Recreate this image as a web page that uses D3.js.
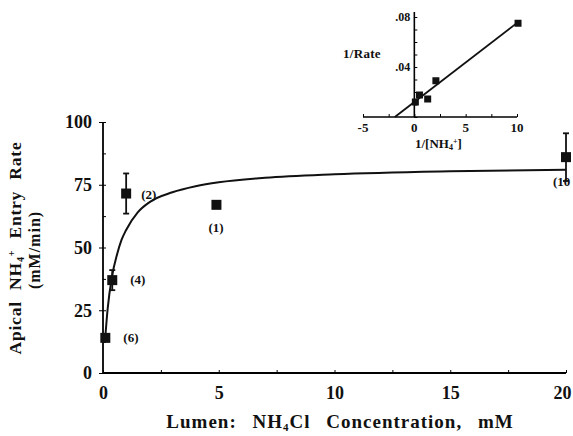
<!DOCTYPE html>
<html><head><meta charset="utf-8">
<script src="https://cdn.jsdelivr.net/npm/d3@7"></script>
<style>
body{margin:0;background:#fff;}
text{font-family:"Liberation Serif","Times New Roman",serif;font-weight:bold;fill:#111;}
</style></head>
<body><svg id="c" width="573" height="436"></svg>
<script>
// Main data
const conc = [0.1, 0.4, 1.0, 4.9, 20];
const rate = [14, 37, 71.5, 67, 86];
const sem = [0, 4, 8, 0, 9.5];
const nLabels = ["(6)", "(4)", "(2)", "(1)", "(10"];
// Fitted curve points
const curveX = [0.08, 0.2, 0.4, 0.6, 0.8, 1, 1.5, 2, 3, 4, 5, 7, 10, 15, 20];
const curveY = [12, 25.5, 39, 47, 53, 57, 64, 68, 72, 74.4, 76, 77.8, 79.2, 80.4, 81];
const xTicks = [0, 5, 10, 15, 20];
const yTicks = [0, 25, 50, 75, 100];
// Inset (double reciprocal)
const invConc = [0.1, 0.5, 1.3, 2.1, 10.1];
const invRate = [0.012, 0.0176, 0.0144, 0.029, 0.075];
const fitX = [-1.9, 10.2];
const fitY = [0, 0.0765];
const insetXTicks = [-5, 0, 5, 10];
const insetYTicks = [0.04, 0.08];

const svg = d3.select("#c");
const x = d3.scaleLinear().domain([0, 20]).range([103, 566]);
const y = d3.scaleLinear().domain([0, 100]).range([373, 122]);

// axes
const gx = svg.append("g").attr("transform", `translate(0,${y(0)})`)
  .call(d3.axisBottom(x).tickValues(d3.range(0, 20.01, 2.5)).tickSize(-3).tickFormat(""));
gx.select(".domain").attr("stroke-width", 1.8).attr("d", `M${x(0)},0H${x(20)}`);
gx.selectAll(".tick line").attr("stroke-width", 1);
const gy = svg.append("g").attr("transform", `translate(${x(0)},0)`)
  .call(d3.axisLeft(y).tickValues(d3.range(0, 100.01, 12.5)).tickSize(-3).tickFormat(""));
gy.select(".domain").attr("stroke-width", 1.8).attr("d", `M0,${y(0)}V${y(100)}`);
gy.selectAll(".tick line").attr("stroke-width", 1);
const gy2 = svg.append("g").attr("transform", `translate(${x(0)},0)`)
  .call(d3.axisLeft(y).tickValues(yTicks).tickSize(4).tickPadding(7).tickFormat(d3.format("d")));
gy2.select(".domain").remove();
gy2.selectAll("text").attr("font-size", 18).attr("font-family", "Liberation Serif").attr("font-weight", "bold").attr("fill", "#111");
const gx2 = svg.append("g").attr("transform", `translate(0,${y(0)})`)
  .call(d3.axisBottom(x).tickValues(xTicks).tickSize(0).tickPadding(13).tickFormat(d3.format("d")));
gx2.select(".domain").remove();
gx2.selectAll("text").attr("font-size", 18).attr("font-family", "Liberation Serif").attr("font-weight", "bold").attr("fill", "#111")
  .attr("dx", d => d === 20 ? -4 : 0);

// curve
const pts = curveX.map((d, i) => [d, curveY[i]]);
svg.append("path").attr("d", d3.line().x(d => x(d[0])).y(d => y(d[1])).curve(d3.curveMonotoneX)(pts))
  .attr("fill", "none").attr("stroke", "#111").attr("stroke-width", 2);

// error bars
conc.forEach((c, i) => {
  if (sem[i] > 0) {
    svg.append("line").attr("x1", x(c)).attr("x2", x(c)).attr("y1", y(rate[i] - sem[i])).attr("y2", y(rate[i] + sem[i])).attr("stroke", "#111").attr("stroke-width", 1.8);
    [rate[i] - sem[i], rate[i] + sem[i]].forEach(v => svg.append("line").attr("x1", x(c) - 3).attr("x2", x(c) + 3).attr("y1", y(v)).attr("y2", y(v)).attr("stroke", "#111").attr("stroke-width", 1.8));
  }
});
// markers
svg.selectAll("rect.m").data(conc).enter().append("rect").attr("class", "m")
  .attr("x", d => x(d) - 5).attr("y", (d, i) => y(rate[i]) - 5).attr("width", 10).attr("height", 10).attr("fill", "#111");
// n labels
const labOff = [[18, 4], [18, 4], [15, 5], [-8, 27], [-13, 29]];
nLabels.forEach((t, i) => {
  svg.append("text").attr("x", x(conc[i]) + labOff[i][0]).attr("y", y(rate[i]) + labOff[i][1]).attr("font-size", 13).text(t);
});

// axis titles
const xt = svg.append("text").attr("x", 340).attr("y", 428).attr("text-anchor", "middle").attr("font-size", 19).attr("letter-spacing", 1).attr("word-spacing", 10);
xt.append("tspan").text("Lumen:  NH");
xt.append("tspan").attr("font-size", 11).attr("dy", 3).text("4");
xt.append("tspan").attr("dy", -3).text("Cl  Concentration,  mM");
const yt = svg.append("text").attr("transform", "translate(21,248) rotate(-90)").attr("text-anchor", "middle").attr("font-size", 17.5).attr("letter-spacing", 0.8).attr("word-spacing", 6);
yt.append("tspan").text("Apical  NH");
yt.append("tspan").attr("font-size", 10).attr("dy", 3).text("4");
yt.append("tspan").attr("font-size", 10).attr("dy", -9).text("+");
yt.append("tspan").attr("dy", 6).text("  Entry  Rate");
svg.append("text").attr("transform", "translate(40,250) rotate(-90)").attr("text-anchor", "middle").attr("font-size", 16).attr("letter-spacing", 1).text("(mM/min)");

// inset
const ix = d3.scaleLinear().domain([-5, 10]).range([363, 517]);
const iy = d3.scaleLinear().domain([0, 0.08]).range([117, 17]);
const ig = svg.append("g");
const iax = ig.append("g").attr("transform", `translate(0,${iy(0)})`)
  .call(d3.axisBottom(ix).tickValues(d3.range(-5, 10.01, 2.5)).tickSize(-3).tickFormat(""));
iax.select(".domain").attr("stroke-width", 1.6).attr("d", `M${ix(-5)},0H${ix(10)}`);
const iay = ig.append("g").attr("transform", `translate(${ix(0)},0)`)
  .call(d3.axisLeft(iy).tickValues(d3.range(0, 0.0801, 0.01)).tickSize(-3).tickFormat(""));
iay.select(".domain").attr("stroke-width", 1.6).attr("d", `M0,${iy(0)}V${iy(0.084)}`);
insetXTicks.forEach(t => ig.append("text").attr("x", ix(t)).attr("y", 132).attr("text-anchor", "middle").attr("font-size", 13).text(t));
insetYTicks.forEach(t => ig.append("text").attr("x", ix(0) - 4).attr("y", iy(t) + 4).attr("text-anchor", "end").attr("font-size", 12).text(d3.format(".2f")(t).replace(/^0/, "")));
ig.append("path").attr("d", d3.line().x(d => ix(d[0])).y(d => iy(d[1]))(fitX.map((d, i) => [d, fitY[i]])))
  .attr("stroke", "#111").attr("stroke-width", 1.8).attr("fill", "none");
ig.selectAll("rect").data(invConc).enter().append("rect")
  .attr("x", d => ix(d) - 3.5).attr("y", (d, i) => iy(invRate[i]) - 3.5).attr("width", 7).attr("height", 7).attr("fill", "#111");
ig.append("text").attr("x", 343).attr("y", 58).attr("font-size", 13).attr("letter-spacing", 0.3).text("1/Rate");
const il = ig.append("text").attr("x", 415).attr("y", 148).attr("font-size", 13);
il.append("tspan").text("1/[NH");
il.append("tspan").attr("font-size", 8).attr("dy", 2).text("4");
il.append("tspan").attr("font-size", 8).attr("dy", -6).text("+");
il.append("tspan").attr("dy", 4).text("]");
</script></body></html>
